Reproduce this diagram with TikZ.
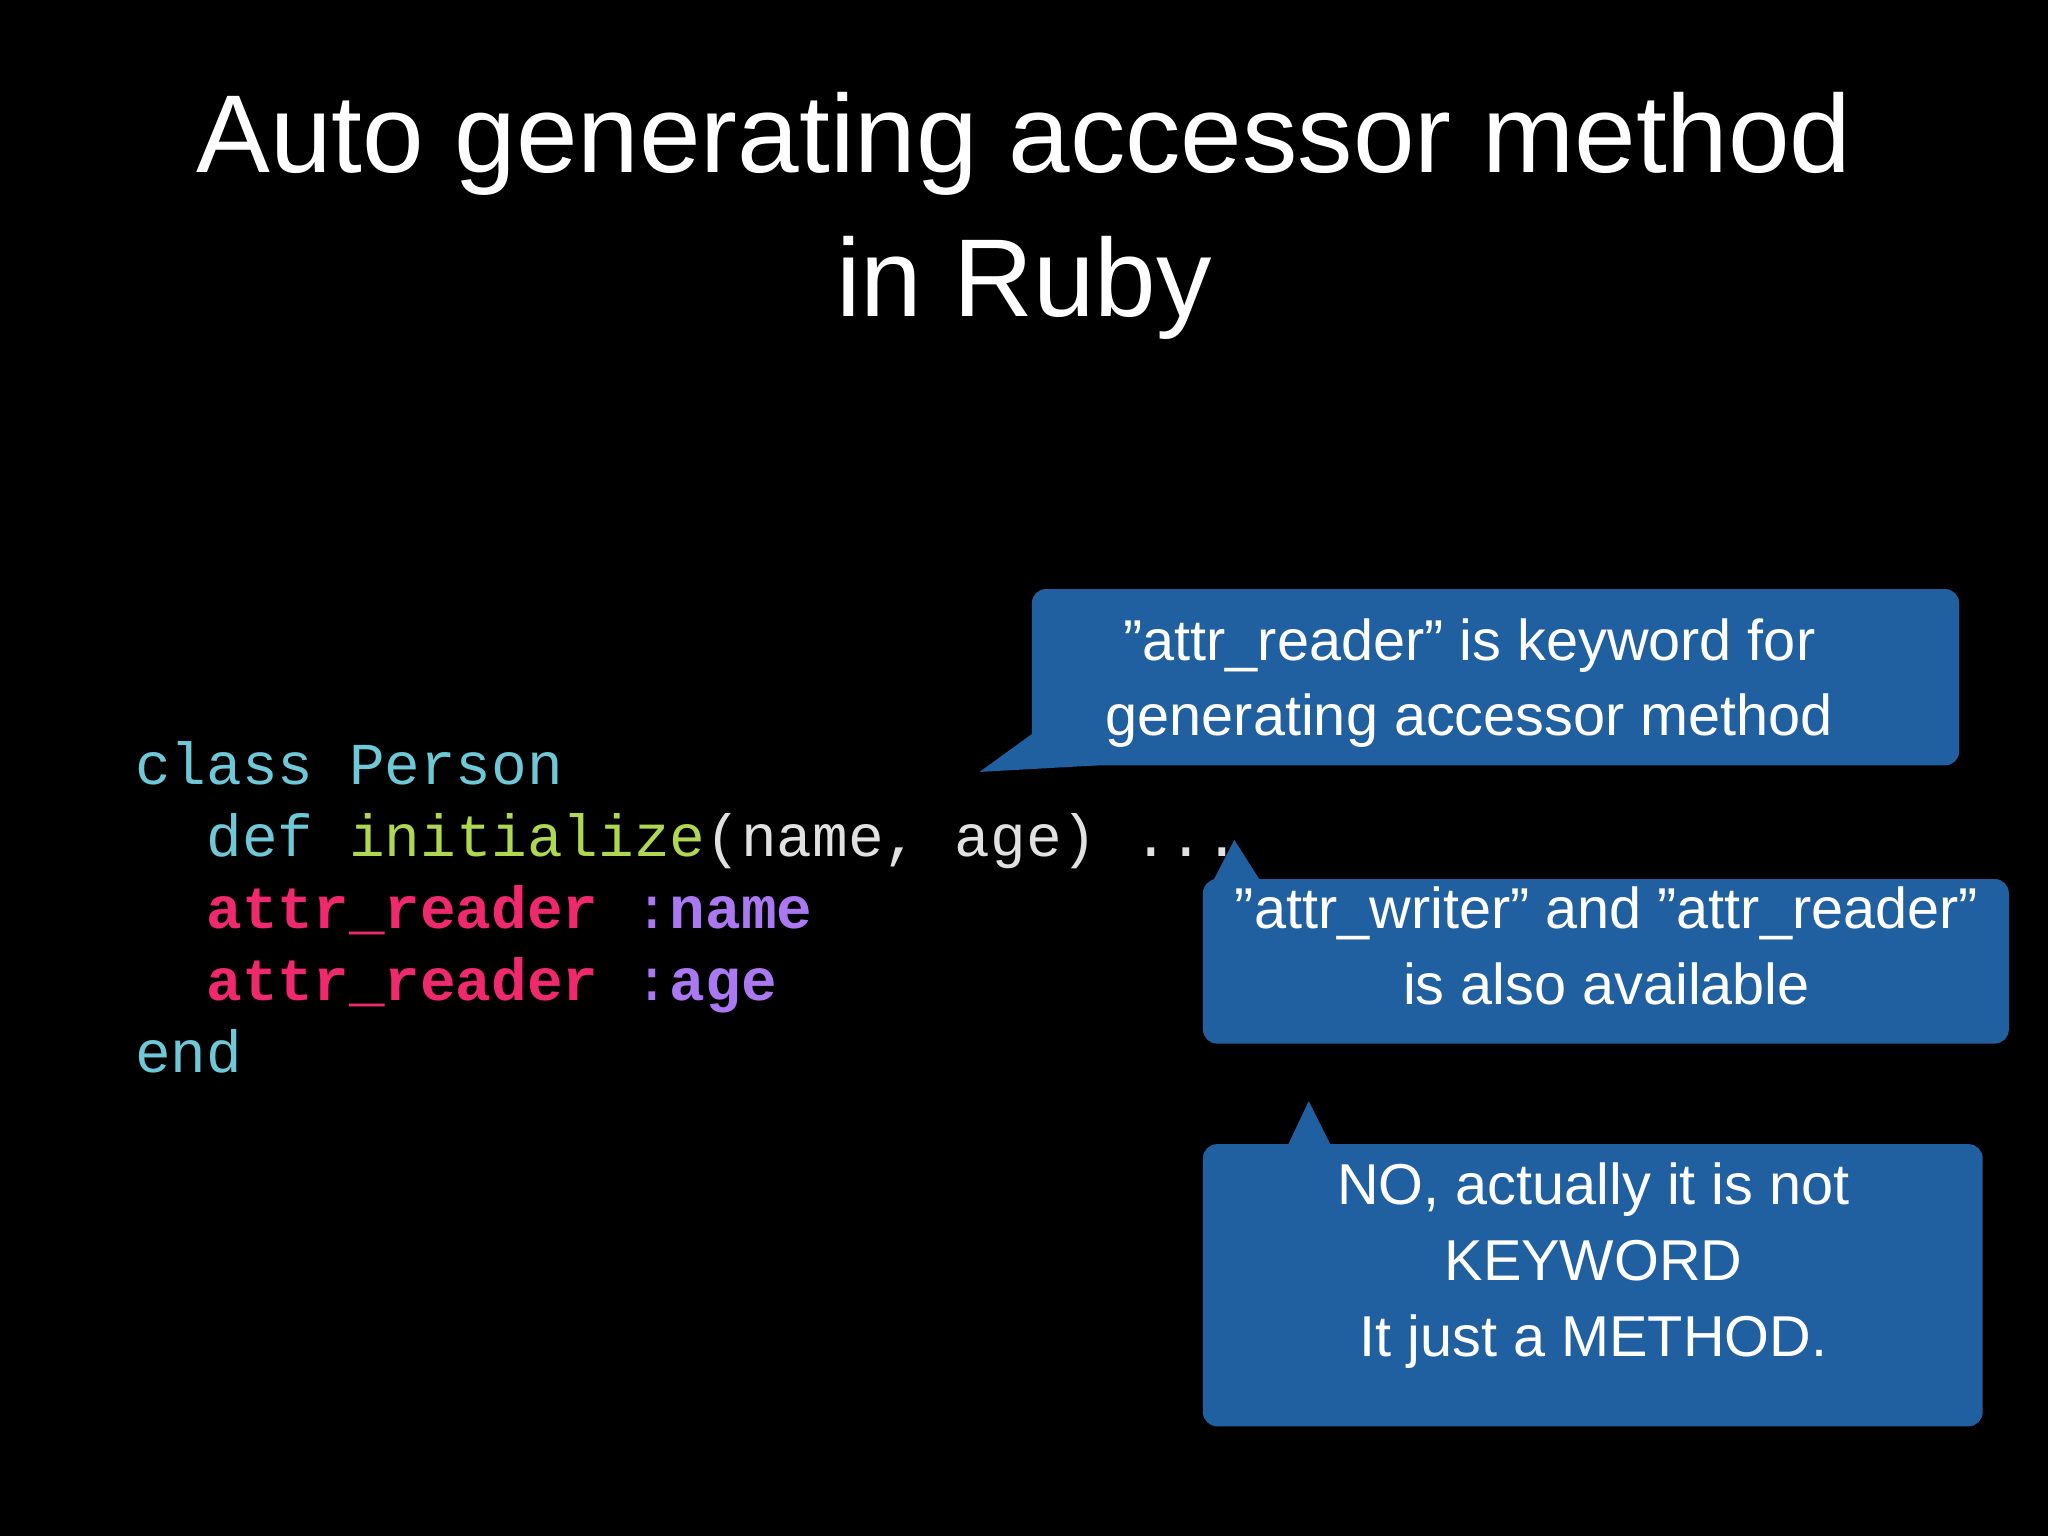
\documentclass[tikz,border=0pt]{standalone}
\usepackage{fontspec}
\setmainfont{Liberation Sans}
\setmonofont{Liberation Mono}
\definecolor{cyanc}{RGB}{110,200,215}
\definecolor{limec}{RGB}{175,215,80}
\definecolor{pinkc}{RGB}{240,40,110}
\definecolor{purpc}{RGB}{170,120,240}
\definecolor{codew}{RGB}{225,225,225}
\definecolor{boxc}{RGB}{32,96,160}
\begin{document}
\begin{tikzpicture}[x=0.013061cm,y=-0.013061cm,
  callout/.style={fill=boxc,rounded corners=4pt},
  ctext/.style={text=white,align=center,font=\fontsize{16.4}{21.5}\selectfont},
  code/.style={anchor=base west,inner sep=0pt,font=\ttfamily\fontsize{16.9}{20}\selectfont}]
\fill[black] (0,0) rectangle (1568,1176);
\useasboundingbox (0,0) rectangle (1568,1176);
\node[text=white,align=center,font=\fontsize{31.5}{41}\selectfont] (title) at (784,165) {Auto generating accessor method\\in Ruby};
% code
\node[code] (l1) at (103,601) {\textcolor{cyanc}{class Person}};
\node[code] (l2) at (103,656) {\textcolor{cyanc}{\ \ def} \textcolor{limec}{initialize}\textcolor{codew}{(name, age) ...}};
\node[code] (l3) at (103,711) {\ \ \textcolor{pinkc}{\bfseries attr\_reader} \textcolor{purpc}{:\bfseries name}};
\node[code] (l4) at (103,766) {\ \ \textcolor{pinkc}{\bfseries attr\_reader} \textcolor{purpc}{:\bfseries age}};
\node[code] (l5) at (103,821) {\textcolor{cyanc}{end}};
% callouts
\fill[callout] (790,451) rectangle (1500,586);
\fill[boxc] (790,562) -- (750,591) -- (840,586) -- cycle;
\node[ctext] (c1) at (1125,523) {"attr\_reader" is keyword for\\generating accessor method};
\fill[callout] (921,673) rectangle (1538,799);
\fill[boxc] (928,676) -- (945,643) -- (966,676) -- cycle;
\node[ctext] (c2) at (1230,724) {"attr\_writer" and "attr\_reader"\\is also available};
\fill[callout] (921,876) rectangle (1518,1092);
\fill[boxc] (985,879) -- (1002,843) -- (1020,879) -- cycle;
\node[ctext] (c3) at (1220,969) {NO, actually it is not\\KEYWORD\\It just a METHOD.};
\end{tikzpicture}
\end{document}
